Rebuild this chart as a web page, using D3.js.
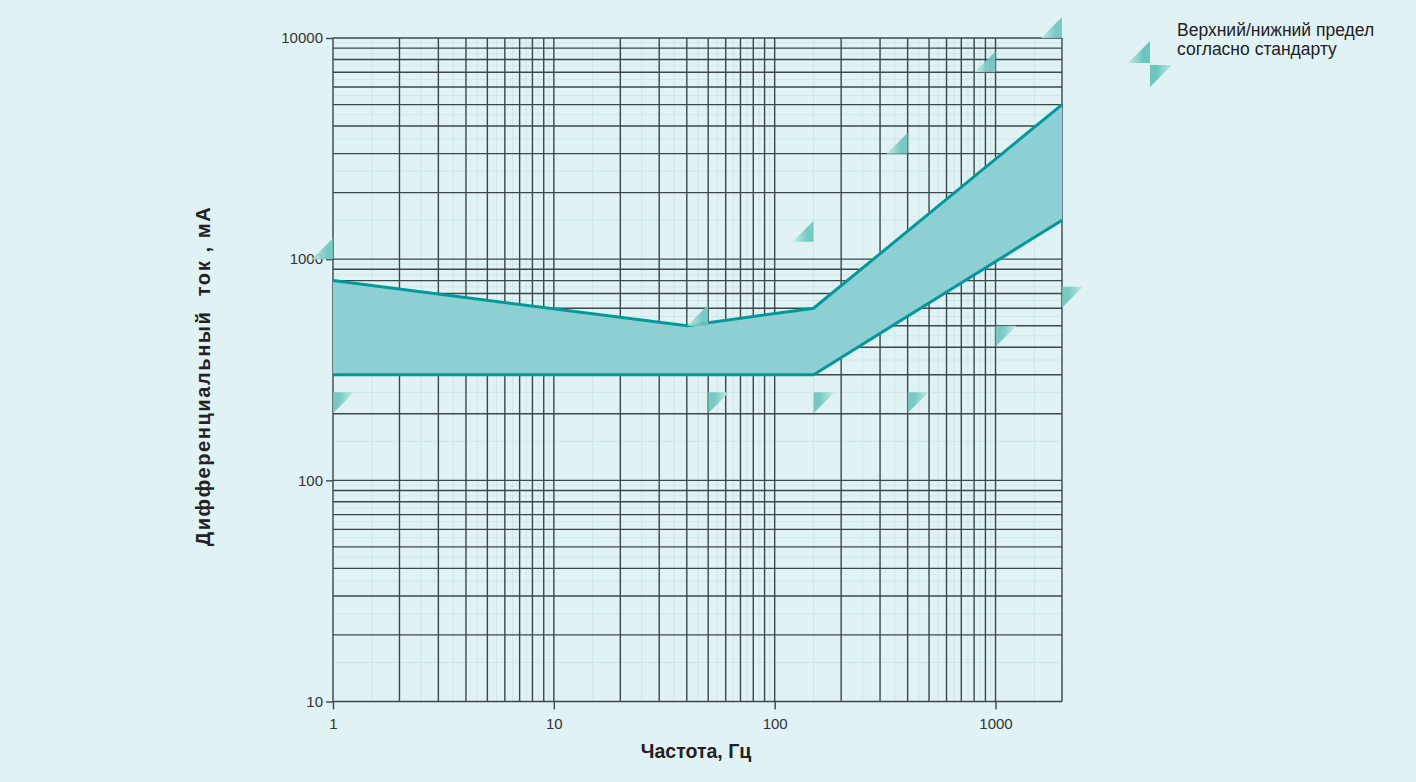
<!DOCTYPE html>
<html>
<head>
<meta charset="utf-8">
<script src="https://cdn.jsdelivr.net/npm/d3@7"></script>
<style>
  html, body { margin: 0; padding: 0; background: #e0f2f4; }
  svg { display: block; }
  text { font-family: "Liberation Sans", Arial, sans-serif; }
</style>
</head>
<body>
<script>
// Residual-current tripping band vs. frequency (log-log)
const xTickValues = [1, 10, 100, 1000];
const yTickValues = [10, 100, 1000, 10000];

// Band edges: frequency (Hz) -> current (mA)
const upperFreq = [1, 40, 150, 2000];
const upperCurrent = [800, 500, 600, 5000];
const lowerFreq = [1, 150, 2000];
const lowerCurrent = [300, 300, 1500];

// Limits given by the standard
const stdUpperFreq = [1, 50, 150, 400, 1000, 2000];
const stdUpperCurrent = [1000, 500, 1200, 3000, 7000, 10000];
const stdLowerFreq = [1, 50, 150, 400, 1000, 2000];
const stdLowerCurrent = [250, 250, 250, 250, 500, 750];

const xTitle = "Частота, Гц";
const yTitle = "Дифференциальный  ток , мА";
const legendLines = ["Верхний/нижний предел", "согласно стандарту"];

const W = 1416, H = 782;
const svg = d3.select("body").append("svg").attr("width", W).attr("height", H);

svg.append("rect").attr("width", W).attr("height", H).attr("fill", "#e0f2f4");

const x = d3.scaleLog().domain([1, 2000]).range([333, 1062]);
const y = d3.scaleLog().domain([10, 10000]).range([701.5, 38]);

const defs = svg.append("defs");
const gUp = defs.append("linearGradient").attr("id", "gUp")
  .attr("x1", "0%").attr("y1", "0%").attr("x2", "100%").attr("y2", "0%");
gUp.append("stop").attr("offset", "0%").attr("stop-color", "#c6e9e5");
gUp.append("stop").attr("offset", "70%").attr("stop-color", "#6cc5bd");
const gDn = defs.append("linearGradient").attr("id", "gDn")
  .attr("x1", "0%").attr("y1", "0%").attr("x2", "100%").attr("y2", "0%");
gDn.append("stop").attr("offset", "30%").attr("stop-color", "#6cc5bd");
gDn.append("stop").attr("offset", "100%").attr("stop-color", "#c6e9e5");

// Log grid values (1..9 within each decade)
function logGrid(lo, hi) {
  const v = [];
  for (let d = lo; d < hi; d *= 10) for (let k = 1; k < 10; k++) { const t = d * k; if (t <= hi) v.push(t); }
  v.push(hi);
  return Array.from(new Set(v));
}
const xGrid = logGrid(1, 2000);
const yGrid = logGrid(10, 10000);

// faint sub-grid at half steps
const xSub = [], ySub = [];
xGrid.forEach(v => { const d = Math.pow(10, Math.floor(Math.log10(v) + 1e-9)); if (v + d / 2 < 2000) xSub.push(v + d / 2); });
yGrid.forEach(v => { const d = Math.pow(10, Math.floor(Math.log10(v) + 1e-9)); if (v + d / 2 < 10000) ySub.push(v + d / 2); });

const grid = svg.append("g");
grid.selectAll(".xs").data(xSub).join("line")
  .attr("x1", d => x(d)).attr("x2", d => x(d)).attr("y1", y(10)).attr("y2", y(10000))
  .attr("stroke", "#d0e6e9").attr("stroke-width", 1);
grid.selectAll(".ys").data(ySub).join("line")
  .attr("y1", d => y(d)).attr("y2", d => y(d)).attr("x1", x(1)).attr("x2", x(2000))
  .attr("stroke", "#d0e6e9").attr("stroke-width", 1);

grid.selectAll(".xg").data(xGrid).join("line")
  .attr("x1", d => x(d)).attr("x2", d => x(d)).attr("y1", y(10)).attr("y2", y(10000))
  .attr("stroke", "#3b4749").attr("stroke-width", 1.4);
grid.selectAll(".yg").data(yGrid).join("line")
  .attr("y1", d => y(d)).attr("y2", d => y(d)).attr("x1", x(1)).attr("x2", x(2000))
  .attr("stroke", "#3b4749").attr("stroke-width", 1.4);

// band (opaque, covers the grid)
const band = svg.append("g");
const upperPts = upperFreq.map((f, i) => [x(f), y(upperCurrent[i])]);
const lowerPts = lowerFreq.map((f, i) => [x(f), y(lowerCurrent[i])]);
const poly = upperPts.concat(lowerPts.slice().reverse());
band.append("path").attr("d", "M" + poly.join("L") + "Z").attr("fill", "#8ecfd4");
const line = d3.line();
band.append("path").attr("d", line(upperPts)).attr("fill", "none")
  .attr("stroke", "#00999a").attr("stroke-width", 3);
band.append("path").attr("d", line(lowerPts)).attr("fill", "none")
  .attr("stroke", "#00999a").attr("stroke-width", 3);

// axes
const yAxis = d3.axisLeft(y).tickValues(yTickValues).tickFormat(d3.format("d")).tickSize(7).tickPadding(3);
const xAxis = d3.axisBottom(x).tickValues(xTickValues).tickFormat(d3.format("d")).tickSize(8).tickPadding(9);
const ya = svg.append("g").attr("transform", `translate(${x(1)},0)`).call(yAxis);
const xa = svg.append("g").attr("transform", `translate(0,${y(10)})`).call(xAxis);
[ya, xa].forEach(a => {
  a.select(".domain").remove();
  a.selectAll("line").attr("stroke", "#3b4749").attr("stroke-width", 1.4);
  a.selectAll("text").attr("fill", "#333").attr("font-size", 15)
    .attr("font-family", "'Liberation Sans', Arial, sans-serif");
});

// standard limit markers
const S = 21;
const markers = svg.append("g");
markers.selectAll(".up").data(stdUpperFreq.map((f, i) => [f, stdUpperCurrent[i]])).join("path")
  .attr("d", d => { const px = x(d[0]), py = y(d[1]); return `M${px - S},${py}L${px},${py - S}L${px},${py}Z`; })
  .attr("fill", "url(#gUp)").attr("fill-opacity", 0.9);
markers.selectAll(".dn").data(stdLowerFreq.map((f, i) => [f, stdLowerCurrent[i]])).join("path")
  .attr("d", d => { const px = x(d[0]), py = y(d[1]); return `M${px},${py}L${px + S},${py}L${px},${py + S}Z`; })
  .attr("fill", "url(#gDn)").attr("fill-opacity", 0.9);

// legend
const lg = svg.append("g");
lg.append("path").attr("d", `M1128,63L1150,41L1150,63Z`).attr("fill", "url(#gUp)");
lg.append("path").attr("d", `M1150,65L1172,65L1150,87Z`).attr("fill", "url(#gDn)");
lg.selectAll("text").data(legendLines).join("text")
  .attr("x", 1177).attr("y", (d, i) => 36 + i * 19)
  .attr("font-size", 17.5).attr("fill", "#222").text(d => d);

// titles
svg.append("text").attr("x", 696).attr("y", 758).attr("text-anchor", "middle")
  .attr("font-size", 19.5).attr("font-weight", "bold").attr("fill", "#222").text(xTitle);
svg.append("text").attr("transform", "translate(210,376) rotate(-90)").attr("text-anchor", "middle")
  .attr("font-size", 20).attr("font-weight", "bold").attr("fill", "#222")
  .attr("letter-spacing", 1.6)
  .style("white-space", "pre").text(yTitle);
</script>
</body>
</html>
